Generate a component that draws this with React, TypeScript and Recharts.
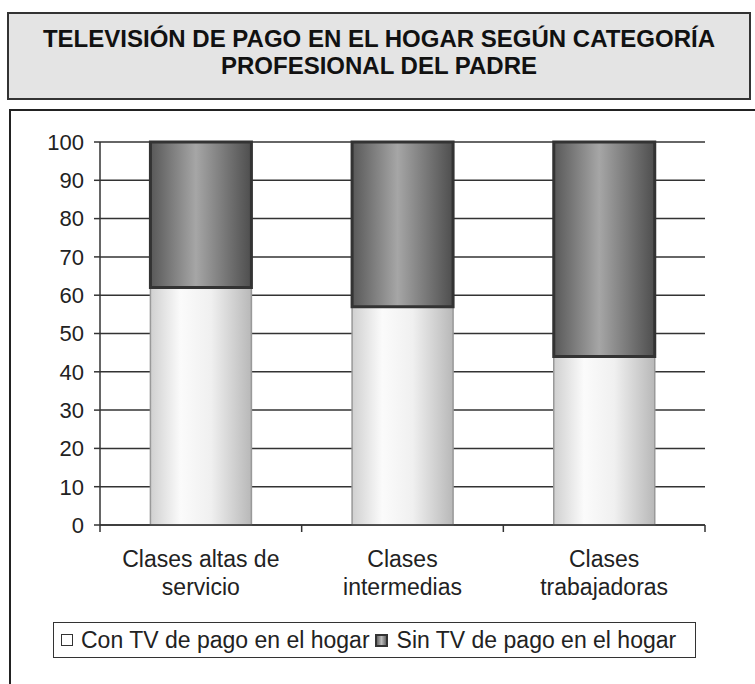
import React from 'react';
import { BarChart, Bar, XAxis, YAxis, CartesianGrid } from 'recharts';

const categories = ['Clases altas de servicio', 'Clases intermedias', 'Clases trabajadoras'];
const categoryLines = [
  ['Clases altas de', 'servicio'],
  ['Clases', 'intermedias'],
  ['Clases', 'trabajadoras'],
];
const conTV = [62, 57, 44];
const sinTV = [38, 43, 56];
const yTicks = [0, 10, 20, 30, 40, 50, 60, 70, 80, 90, 100];
const seriesNames = ['Con TV de pago en el hogar', 'Sin TV de pago en el hogar'];
const titleLines = ['TELEVISIÓN DE PAGO EN EL HOGAR SEGÚN CATEGORÍA', 'PROFESIONAL DEL PADRE'];

const data = categories.map((c, i) => ({ name: c, con: conTV[i], sin: sinTV[i] }));

const FONT = '"Liberation Sans", Arial, sans-serif';

const CatTick = (props: any) => {
  const { x, y, index, payload, visibleTicksCount } = props;
  const lines = categoryLines[index] || [];
  const half = payload && typeof payload.offset === 'number' ? payload.offset : 0;
  const axisY = y - 8;
  const last = index === (visibleTicksCount ? visibleTicksCount - 1 : categories.length - 1);
  return (
    <g>
      {half > 0 && (
        <line x1={x - half} x2={x - half} y1={axisY} y2={axisY + 7} stroke="#333" strokeWidth={1.5} />
      )}
      {half > 0 && last && (
        <line x1={x + half} x2={x + half} y1={axisY} y2={axisY + 7} stroke="#333" strokeWidth={1.5} />
      )}
      <text x={x} y={y} textAnchor="middle" fontFamily={FONT} fontSize={23} fill="#222">
        {lines.map((l, i) => (
          <tspan key={i} x={x} dy={i === 0 ? 34 : 28}>
            {l}
          </tspan>
        ))}
      </text>
    </g>
  );
};

export default function App() {
  return (
    <div style={{ position: 'absolute', left: 0, top: 0, width: 755, height: 684, background: '#fff', overflow: 'hidden' }}>
      <div
        style={{
          position: 'absolute',
          left: 7,
          top: 12,
          width: 744,
          height: 88,
          border: '2px solid #333',
          background: '#e4e4e4',
          fontFamily: FONT,
          fontWeight: 'bold',
          fontSize: 24,
          color: '#111',
          textAlign: 'center',
          lineHeight: '27px',
          paddingTop: 11,
          boxSizing: 'border-box',
        }}
      >
        {titleLines.map((t, i) => (
          <div key={i}>{t}</div>
        ))}
      </div>
      <div
        style={{
          position: 'absolute',
          left: 9,
          top: 109,
          width: 760,
          height: 600,
          borderLeft: '2px solid #222',
          borderTop: '2px solid #222',
        }}
      />
      <div style={{ position: 'absolute', left: 0, top: 0 }}>
        <BarChart
          width={755}
          height={684}
          data={data}
          margin={{ top: 142, right: 50, bottom: 89, left: 0 }}
          barCategoryGap="25%"
        >
          <defs>
            <linearGradient id="gLight" x1="0" y1="0" x2="1" y2="0">
              <stop offset="0%" stopColor="#d0d0d0" />
              <stop offset="30%" stopColor="#fbfbfb" />
              <stop offset="60%" stopColor="#f0f0f0" />
              <stop offset="100%" stopColor="#b8b8b8" />
            </linearGradient>
            <linearGradient id="gDark" x1="0" y1="0" x2="1" y2="0">
              <stop offset="0%" stopColor="#585858" />
              <stop offset="45%" stopColor="#a6a6a6" />
              <stop offset="100%" stopColor="#4e4e4e" />
            </linearGradient>
          </defs>
          <CartesianGrid vertical={false} stroke="#333" strokeWidth={1.5} />
          <XAxis
            dataKey="name"
            height={70}
            axisLine={{ stroke: '#333', strokeWidth: 1.5 }}
            tickLine={false}
            tickSize={6}
            tickMargin={2}
            tick={<CatTick />}
            interval={0}
          />
          <YAxis
            width={100}
            domain={[0, 100]}
            ticks={yTicks}
            interval={0}
            axisLine={{ stroke: '#333', strokeWidth: 1.5 }}
            tickLine={{ stroke: '#333', strokeWidth: 1.5 }}
            tickSize={6}
            tickMargin={10}
            tick={{ fontFamily: FONT, fontSize: 22, fill: '#222' }}
          />
          <Bar dataKey="con" name={seriesNames[0]} stackId="a" fill="url(#gLight)" stroke="#999" strokeWidth={1.5} isAnimationActive={false} />
          <Bar dataKey="sin" name={seriesNames[1]} stackId="a" fill="url(#gDark)" stroke="#333" strokeWidth={3} isAnimationActive={false} />
        </BarChart>
      </div>
      <div
        style={{
          position: 'absolute',
          left: 53,
          top: 622,
          width: 643,
          height: 36,
          border: '1.5px solid #333',
          boxSizing: 'border-box',
          display: 'flex',
          alignItems: 'center',
          paddingLeft: 7,
          fontFamily: FONT,
          fontSize: 23,
          color: '#222',
          whiteSpace: 'nowrap',
        }}
      >
        <span style={{ display: 'inline-block', width: 10, height: 10, border: '1.5px solid #333', background: '#fff', marginRight: 8 }} />
        <span style={{ marginRight: 5 }}>{seriesNames[0]}</span>
        <span
          style={{
            display: 'inline-block',
            width: 9,
            height: 9,
            border: '2px solid #333',
            background: 'linear-gradient(to right, #666, #bbb, #666)',
            marginRight: 9,
          }}
        />
        <span>{seriesNames[1]}</span>
      </div>
    </div>
  );
}
